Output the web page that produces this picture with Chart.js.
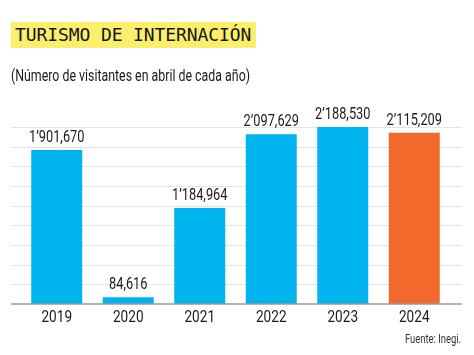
<!DOCTYPE html>
<html>
<head>
<meta charset="utf-8">
<script src="https://cdn.jsdelivr.net/npm/chart.js@4"></script>
<style>
html,body{margin:0;padding:0;background:#fff;}
#wrap{position:relative;width:474px;height:355px;overflow:hidden;}
canvas{position:absolute;left:0;top:0;}
#title{position:absolute;left:11px;top:22px;height:26px;line-height:26px;padding:0 5px 0 4px;background:#fcef6c;font-family:"DejaVu Sans Mono",monospace;font-size:18px;color:#151515;white-space:nowrap;letter-spacing:-0.1px;}
#sub{position:absolute;left:11px;top:66px;font-family:Roboto,sans-serif;font-size:16px;color:#1a1a1a;white-space:nowrap;transform-origin:0 0;}
#src{position:absolute;left:405px;top:331px;font-family:Roboto,sans-serif;font-size:12.5px;color:#333;white-space:nowrap;transform-origin:0 0;}
</style>
</head>
<body>
<div id="wrap">
<canvas id="c" width="474" height="355"></canvas>
<div id="title">TURISMO DE INTERNACIÓN</div>
<div id="sub">(Número de visitantes en abril de cada año)</div>
<div id="src">Fuente: Inegi.</div>
</div>
<script>
const categories = ["2019", "2020", "2021", "2022", "2023", "2024"];
const visitantes = [1901670, 84616, 1184964, 2097629, 2188530, 2115209];
const barColors = ["#00b4ef", "#00b4ef", "#00b4ef", "#00b4ef", "#00b4ef", "#f26a2b"];
const gridStep = 243000;
const gridMax = 2187000;

const FONT = 'Roboto, sans-serif';
const SQUEEZE = 0.8;

function fitWidth(el, target) {
  const w = el.getBoundingClientRect().width;
  el.style.transform = 'scaleX(' + (target / w) + ')';
}
fitWidth(document.getElementById('sub'), 239);
fitWidth(document.getElementById('src'), 56);

function fmt(v) {
  const m = Math.floor(v / 1000000);
  const t = Math.floor((v % 1000000) / 1000);
  const u = v % 1000;
  const p3 = n => String(n).padStart(3, '0');
  if (m > 0) return m + '\u2019' + p3(t) + ',' + p3(u);
  return t + ',' + p3(u);
}

function squeezedText(ctx, text, x, y) {
  ctx.save();
  ctx.translate(x, y);
  ctx.scale(SQUEEZE, 1);
  ctx.fillText(text, 0, 0);
  ctx.restore();
}

const gridPlugin = {
  id: 'gridPlugin',
  beforeDatasetsDraw(chart) {
    const ctx = chart.ctx;
    const y = chart.scales.y;
    ctx.save();
    y.ticks.forEach(t => {
      if (t.value === 0) return;
      const py = Math.round(y.getPixelForValue(t.value)) + 0.5;
      ctx.strokeStyle = '#e4e4e4';
      ctx.lineWidth = 1;
      ctx.beginPath(); ctx.moveTo(11, py); ctx.lineTo(462, py); ctx.stroke();
    });
    ctx.restore();
  },
  afterDatasetsDraw(chart) {
    const ctx = chart.ctx;
    const y = chart.scales.y;
    const x = chart.scales.x;
    const py = y.getPixelForValue(0);
    ctx.save();
    ctx.strokeStyle = '#9a9a9a';
    ctx.lineWidth = 1.5;
    ctx.beginPath(); ctx.moveTo(11, py); ctx.lineTo(462, py); ctx.stroke();
    ctx.fillStyle = '#1a1a1a';
    ctx.textAlign = 'center';
    ctx.textBaseline = 'middle';
    // value labels
    ctx.font = '16px ' + FONT;
    const meta = chart.getDatasetMeta(0);
    meta.data.forEach((bar, i) => {
      squeezedText(ctx, fmt(visitantes[i]), bar.x, bar.y - 12);
    });
    // category labels along the x scale
    ctx.font = '17px ' + FONT;
    categories.forEach((c, i) => {
      squeezedText(ctx, c, x.getPixelForValue(i), py + 14);
    });
    ctx.restore();
  }
};

new Chart(document.getElementById('c'), {
  type: 'bar',
  data: {
    labels: categories,
    datasets: [{
      data: visitantes,
      backgroundColor: barColors,
      borderWidth: 0,
      barPercentage: 0.713,
      categoryPercentage: 1
    }]
  },
  options: {
    responsive: false,
    animation: false,
    events: [],
    layout: { padding: { left: 21, right: 24, top: 127, bottom: 51 } },
    plugins: { legend: { display: false }, tooltip: { enabled: false } },
    scales: {
      x: {
        display: false
      },
      y: {
        display: false,
        min: 0,
        max: gridMax,
        ticks: { stepSize: gridStep }
      }
    }
  },
  plugins: [gridPlugin]
});
</script>
</body>
</html>
